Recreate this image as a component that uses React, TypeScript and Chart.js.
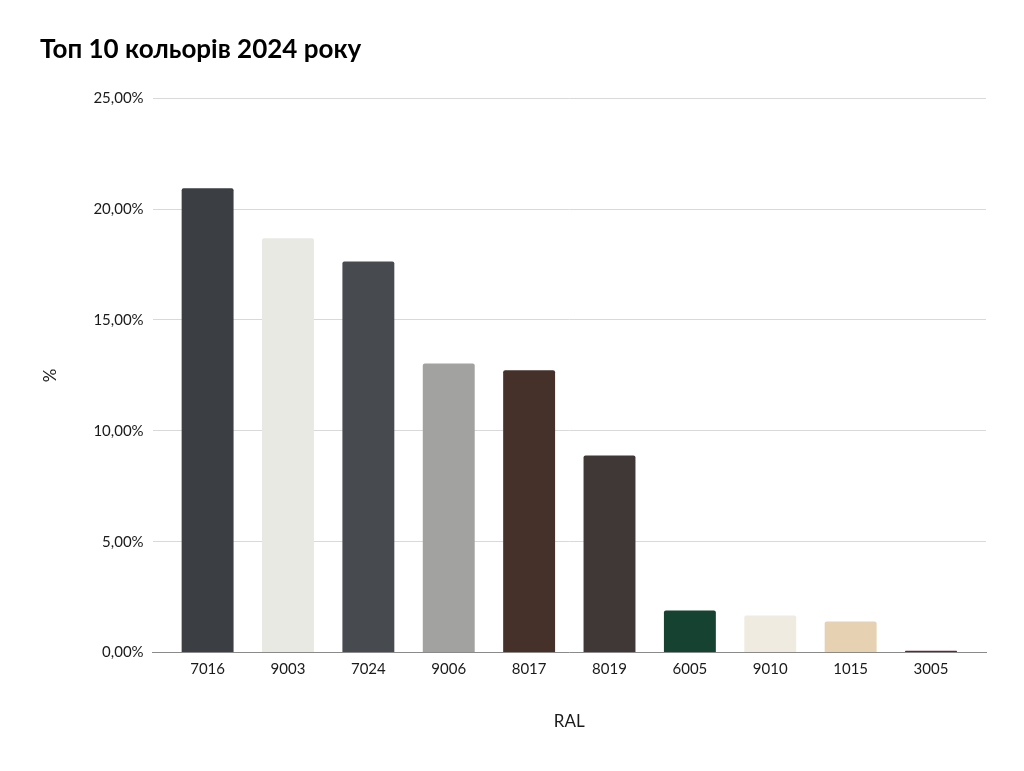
import React, { useEffect, useRef } from "react";
import { Chart, registerables } from "chart.js";

Chart.register(...registerables);

const categories = ["7016", "9003", "7024", "9006", "8017", "8019", "6005", "9010", "1015", "3005"];
const shares = [20.94, 18.68, 17.64, 13.04, 12.73, 8.89, 1.9, 1.67, 1.4, 0.08];
const barColors = [
  "#3b3f43", "#e9e9e3", "#474a4f", "#a2a2a0", "#45302a",
  "#403837", "#154231", "#efebe0", "#e6d2b3", "#6a2430",
];
const chartTitle = "Топ 10 кольорів 2024 року";
const FONT = "Lato, 'Open Sans', sans-serif";

export default function App() {
  const ref = useRef<HTMLCanvasElement | null>(null);
  useEffect(() => {
    document.body.style.margin = "0";
    const chart = new Chart(ref.current!, {
      type: "bar",
      data: {
        datasets: [
          {
            data: shares.map((y, i) => ({ x: i, y })),
            backgroundColor: barColors,
            borderRadius: 2,
            borderSkipped: "bottom",
            barPercentage: 0.646,
            categoryPercentage: 1,
          },
        ],
      },
      options: {
        animation: false,
        responsive: false,
        layout: { padding: { left: 40, right: 38, top: 0, bottom: 39 } },
        plugins: {
          legend: { display: false },
          tooltip: { enabled: false },
          title: {
            display: true,
            text: chartTitle,
            align: "start",
            color: "#000",
            font: { family: FONT, size: 26, weight: "bold" },
            padding: { top: 34, bottom: 33 },
          },
        },
        scales: {
          x: {
            type: "linear",
            offset: false,
            min: -0.684,
            max: categories.length - 1 + 0.684,
            afterBuildTicks: (axis: any) => {
              axis.ticks = categories.map((_, i) => ({ value: i }));
            },
            grid: { display: false, drawTicks: false },
            border: { display: true, color: "#8a8a8a", width: 1 },
            ticks: {
              color: "#1a1a1a",
              padding: 8,
              font: { family: FONT, size: 15 },
              callback: (v: any) => categories[Math.round(Number(v))] ?? "",
            },
            title: {
              display: true,
              text: "RAL",
              color: "#1a1a1a",
              font: { family: FONT, size: 17 },
              padding: { top: 25, bottom: 0 },
            },
          },
          y: {
            min: 0,
            max: 25,
            ticks: {
              stepSize: 5,
              color: "#1a1a1a",
              padding: 9,
              font: { family: FONT, size: 15 },
              callback: (v: any) => Number(v).toFixed(2).replace(".", ",") + "%",
            },
            grid: { color: "#d9d9d9", drawTicks: false },
            border: { display: false },
            title: {
              display: true,
              text: "%",
              color: "#1a1a1a",
              font: { family: FONT, size: 17 },
              padding: { top: 0, bottom: 24 },
            },
          },
        },
      },
    });
    return () => chart.destroy();
  }, []);
  return (
    <div style={{ width: 1024, height: 771 }}>
      <canvas ref={ref} width={1024} height={771} />
    </div>
  );
}
